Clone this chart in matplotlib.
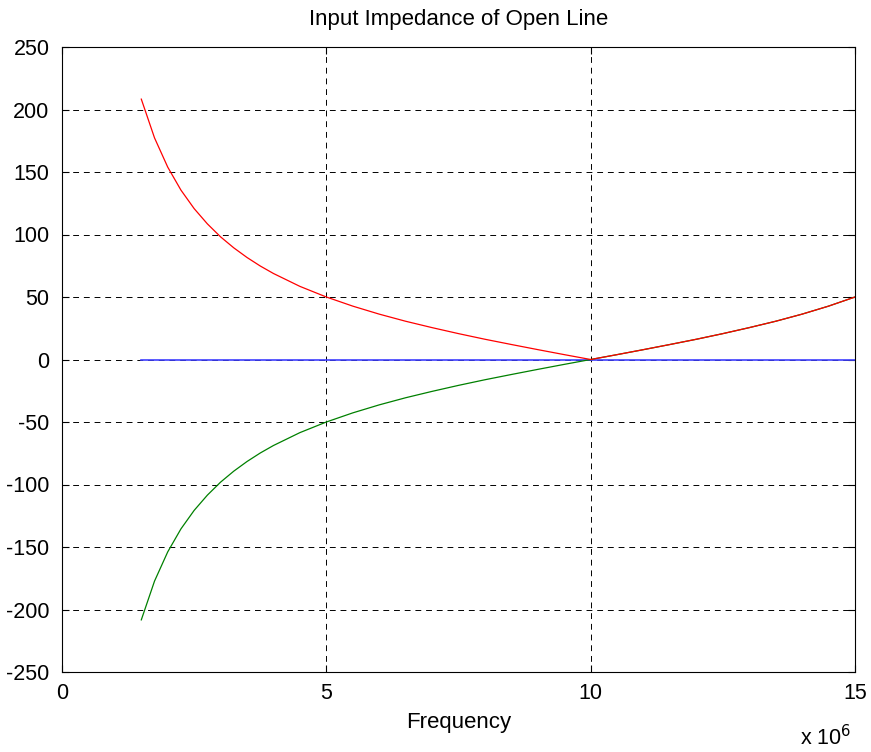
import matplotlib.pyplot as plt
from matplotlib.ticker import FuncFormatter

plt.rcParams['font.family'] = ['Liberation Sans', 'DejaVu Sans']
plt.rcParams['axes.unicode_minus'] = False

# frequency samples (Hz) and input impedance components (ohm)
freq = [1.5e6, 1.75e6, 2.0e6, 2.25e6, 2.5e6, 2.75e6, 3.0e6, 3.25e6, 3.5e6, 3.75e6,
        4.0e6, 4.5e6, 5.0e6, 5.5e6, 6.0e6, 6.5e6, 7.0e6, 7.5e6, 8.0e6, 8.5e6,
        9.0e6, 9.5e6, 10.0e6, 10.5e6, 11.0e6, 11.5e6, 12.0e6, 12.5e6, 13.0e6,
        13.5e6, 14.0e6, 14.5e6, 15.0e6]
z_imag = [-208.3, -177.3, -153.9, -135.5, -120.7, -108.5, -98.1, -89.3, -81.6, -74.8,
          -68.8, -58.5, -50.0, -42.7, -36.3, -30.6, -25.5, -20.7, -16.2, -12.0,
          -7.9, -3.9, 0.0, 3.9, 7.9, 12.0, 16.2, 20.7, 25.5,
          30.6, 36.3, 42.7, 50.0]
z_real = [0.0] * len(freq)
z_abs = [abs(v) for v in z_imag]

fig = plt.figure(figsize=(8.71, 7.52), dpi=100)
ax = fig.add_axes([62 / 871, 1 - 672 / 752, 793 / 871, 625 / 752])

ax.plot(freq, z_real, color='#4040ff', lw=1.2)
ax.plot(freq, z_imag, color='#008000', lw=0.9)
ax.plot(freq, z_abs, color='#ff0000', lw=0.9)

ax.set_xlim(0, 15e6)
ax.set_ylim(-250, 250)
ax.set_xticks([0, 5e6, 10e6, 15e6])
ax.set_yticks(range(-250, 251, 50))
ax.xaxis.set_major_formatter(FuncFormatter(lambda v, p: '%g' % (v / 1e6)))
ax.tick_params(direction='in', top=True, right=True, labelsize=15.5, length=5, width=0.8)
ax.tick_params(axis='y', pad=9)
ax.tick_params(axis='x', pad=8)
ax.grid(True, color='black', linestyle=(0, (6, 5)), linewidth=0.7)
for s in ax.spines.values():
    s.set_linewidth(0.8)

ax.set_title('Input Impedance of Open Line', fontsize=16, pad=16)
ax.set_xlabel('Frequency', fontsize=16, labelpad=6)
fig.text(800 / 871, 1 - 738 / 752, 'x 10$^{6}$', fontsize=15.5, va='center')

fig.savefig('out.png', dpi=100)
